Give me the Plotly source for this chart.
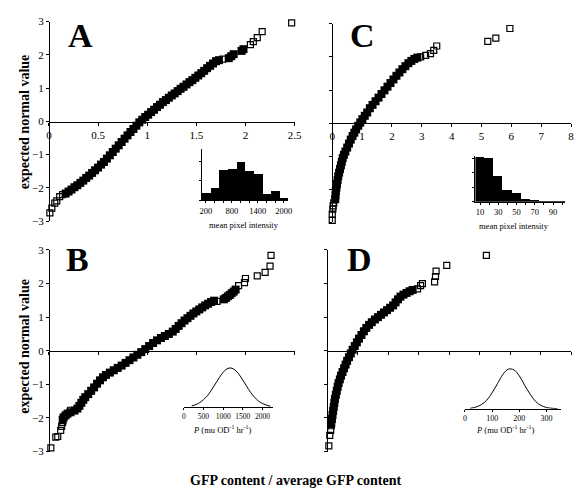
import plotly.graph_objects as go

W, H = 582, 494
def px(x): return x / W
def py(y): return 1 - y / H

SERIF = "Liberation Serif"

# ---------------- data ----------------
# Panel A (GFP content / average vs expected normal value)
a_band_x = [0.17,0.20,0.23,0.26,0.29,0.32,0.35,0.38,0.41,0.44,0.47,0.50,0.53,0.56,0.59,0.62,0.65,0.68,0.71,0.74,
            0.77,0.80,0.83,0.86,0.89,0.92,0.95,0.98,1.01,1.04,1.07,1.10,1.13,1.16,1.19,1.22,1.25,1.28,1.31,1.34,
            1.37,1.40,1.43,1.46,1.49,1.52,1.55,1.58,1.61,1.64,1.67,1.70,1.73,1.83,1.855,1.88,1.96,1.98]
a_band_y = [-2.17,-2.11,-2.05,-1.98,-1.92,-1.85,-1.78,-1.70,-1.63,-1.55,-1.47,-1.39,-1.30,-1.22,-1.12,-1.02,-0.92,-0.82,-0.72,-0.62,
            -0.52,-0.42,-0.32,-0.23,-0.13,-0.03,0.05,0.13,0.20,0.28,0.35,0.43,0.50,0.58,0.64,0.71,0.78,0.84,0.91,0.98,
            1.04,1.11,1.18,1.24,1.31,1.38,1.45,1.52,1.60,1.67,1.74,1.81,1.84,1.90,1.96,2.02,2.12,2.17]
a_open_x = [0.01,0.01,0.03,0.06,0.08,0.11,0.14,1.77,2.05,2.08,2.12,2.17,2.47]
a_open_y = [-3.03,-2.75,-2.61,-2.46,-2.39,-2.26,-2.20,1.87,2.31,2.40,2.52,2.70,2.96]

# Panel B
b_band_x = [0.14,0.15,0.17,0.19,0.22,0.26,0.29,0.31,0.33,0.35,0.37,0.40,0.43,0.46,0.49,0.52,0.55,0.58,0.62,0.66,
            0.70,0.74,0.78,0.82,0.86,0.90,0.94,0.98,1.02,1.06,1.10,1.14,1.18,1.22,1.26,1.29,1.32,1.35,1.38,1.41,
            1.44,1.47,1.50,1.53,1.56,1.59,1.62,1.65,1.68,1.78,1.80,1.82,1.84,1.86,1.88,1.90]
b_band_y = [-2.05,-1.98,-1.92,-1.87,-1.83,-1.78,-1.72,-1.64,-1.55,-1.46,-1.38,-1.29,-1.19,-1.09,-0.98,-0.88,-0.79,-0.72,-0.65,-0.58,
            -0.51,-0.44,-0.36,-0.28,-0.20,-0.12,-0.04,0.05,0.14,0.23,0.31,0.38,0.44,0.50,0.57,0.65,0.74,0.82,0.90,0.97,
            1.04,1.11,1.17,1.23,1.29,1.35,1.40,1.45,1.49,1.53,1.57,1.62,1.66,1.71,1.76,1.82]
b_open_x = [0.02,0.07,0.09,0.12,0.13,0.14,0.22,1.71,1.93,1.99,2.00,2.12,2.20,2.25,2.26]
b_open_y = [-2.89,-2.57,-2.55,-2.37,-2.25,-2.13,-1.77,1.47,1.94,2.03,2.15,2.23,2.33,2.52,2.84]

# Panel C
c_band_x = [0.10,0.11,0.12,0.14,0.16,0.18,0.20,0.23,0.26,0.29,0.32,0.35,0.39,0.44,0.50,0.56,0.62,0.68,0.74,0.80,
            0.87,0.94,1.01,1.09,1.17,1.26,1.35,1.45,1.55,1.65,1.75,1.85,1.95,2.05,2.15,2.25,2.35,2.45,2.55,2.65,
            2.75,2.85]
c_band_y = [-2.30,-2.18,-2.06,-1.95,-1.84,-1.72,-1.61,-1.50,-1.39,-1.28,-1.17,-1.06,-0.96,-0.86,-0.74,-0.62,-0.50,-0.39,-0.29,-0.19,
            -0.08,0.02,0.12,0.22,0.32,0.45,0.55,0.66,0.77,0.88,0.99,1.10,1.21,1.32,1.43,1.53,1.63,1.72,1.81,1.88,
            1.94,1.98]
c_open_x = [0.00,0.00,0.02,0.03,0.05,2.96,3.13,3.29,3.40,3.50,5.21,5.48,5.95]
c_open_y = [-2.94,-2.75,-2.60,-2.50,-2.41,2.00,2.05,2.10,2.20,2.33,2.47,2.57,2.86]

# Panel D
d_band_x = [0.13,0.15,0.17,0.19,0.21,0.23,0.25,0.28,0.31,0.34,0.37,0.41,0.45,0.50,0.55,0.60,0.65,0.71,0.77,0.83,
            0.90,0.97,1.04,1.12,1.20,1.28,1.37,1.46,1.56,1.66,1.76,1.86,1.96,2.06,2.16,2.24,2.32,2.40,2.50,2.60,
            2.70,2.80]
d_band_y = [-2.15,-2.03,-1.91,-1.79,-1.67,-1.55,-1.43,-1.31,-1.19,-1.07,-0.96,-0.85,-0.74,-0.63,-0.52,-0.41,-0.30,-0.19,-0.08,0.03,
            0.14,0.25,0.36,0.47,0.58,0.68,0.77,0.85,0.93,1.00,1.07,1.14,1.21,1.28,1.35,1.44,1.53,1.61,1.67,1.72,
            1.77,1.81]
d_open_x = [0.05,0.08,0.11,0.13,2.96,3.06,3.12,3.52,3.55,3.57,3.92,5.22]
d_open_y = [-2.83,-2.52,-2.37,-2.23,1.84,1.94,2.00,2.05,2.21,2.37,2.54,2.84]

# Inset histograms (mean pixel intensity)
hist_a_bins = [200,400,600,800,1000,1200,1400,1600,1800,2000]
hist_a_counts = [3.8,6.3,15.5,16.0,19.7,15.2,13.5,3.0,4.7,1.3]
hist_a_labels = [200,800,1400,2000]
hist_c_bins = [10,20,30,40,50,60,70,80,90,100]
hist_c_counts = [30.4,30.0,17.6,7.8,5.6,1.6,1.1,0.3,0.3,0.1]
hist_c_labels = [10,30,50,70,90]

# Inset distribution curves (P, mu OD-1 hr-1)
curve_b_x = [200,300,400,500,600,700,800,900,1000,1100,1200,1300,1400,1500,1600,1700,1800,1900,2000,2100,2200]
curve_b_y = [0.03,0.06,0.11,0.19,0.29,0.43,0.59,0.75,0.89,0.98,1.00,0.95,0.84,0.69,0.53,0.37,0.25,0.15,0.09,0.05,0.02]
curve_b_ticks = [0,500,1000,1500,2000]
curve_d_x = [20,40,60,80,100,120,140,160,180,200,220,240,260,280,300,320,340]
curve_d_y = [0.01,0.04,0.10,0.21,0.40,0.63,0.86,0.99,0.97,0.82,0.58,0.36,0.18,0.08,0.03,0.01,0.00]
curve_d_ticks = [0,100,200,300]

main_ticks_a = [0, 0.5, 1, 1.5, 2, 2.5]
main_ticktext_a = ["0", "0.5", "1", "1.5", "2", "2.5"]
main_ticks_c = [0, 1, 2, 3, 4, 5, 6, 7, 8]
y_ticks = [-3, -2, -1, 0, 1, 2, 3]

# ---------------- figure ----------------
fig = go.Figure()

def add_panel(bx, by, ox, oy, xa, ya):
    fig.add_trace(go.Scatter(x=bx, y=by, mode="markers", xaxis=xa, yaxis=ya,
                             marker=dict(symbol="square", size=8, color="black", line=dict(width=0)),
                             cliponaxis=False, showlegend=False, hoverinfo="skip"))
    fig.add_trace(go.Scatter(x=ox, y=oy, mode="markers", xaxis=xa, yaxis=ya,
                             marker=dict(symbol="square-open", size=6, color="black", line=dict(width=1.2, color="black")),
                             cliponaxis=False, showlegend=False, hoverinfo="skip"))

add_panel(a_band_x, a_band_y, a_open_x, a_open_y, "x", "y")
add_panel(b_band_x, b_band_y, b_open_x, b_open_y, "x2", "y2")
add_panel(c_band_x, c_band_y, c_open_x, c_open_y, "x3", "y3")
add_panel(d_band_x, d_band_y, d_open_x, d_open_y, "x4", "y4")

fig.add_trace(go.Bar(x=hist_a_bins, y=hist_a_counts, width=200, xaxis="x5", yaxis="y5",
                     marker=dict(color="black", line=dict(width=0)), showlegend=False, hoverinfo="skip"))
fig.add_trace(go.Bar(x=hist_c_bins, y=hist_c_counts, width=10, xaxis="x6", yaxis="y6",
                     marker=dict(color="black", line=dict(width=0)), showlegend=False, hoverinfo="skip"))
fig.add_trace(go.Scatter(x=curve_b_x, y=curve_b_y, mode="lines", xaxis="x7", yaxis="y7",
                         line=dict(color="black", width=1, shape="spline"), showlegend=False, hoverinfo="skip"))
fig.add_trace(go.Scatter(x=curve_d_x, y=curve_d_y, mode="lines", xaxis="x8", yaxis="y8",
                         line=dict(color="black", width=1, shape="spline"), showlegend=False, hoverinfo="skip"))

base = dict(showline=True, linecolor="black", linewidth=1, ticks="outside", ticklen=3, tickwidth=1,
            tickcolor="black", showgrid=False, zeroline=False, fixedrange=True,
            tickfont=dict(family=SERIF, size=11, color="black"))
inset = dict(base, tickfont=dict(family=SERIF, size=8.5, color="black"), ticklen=2, tickangle=0)

layout = dict(
    width=W, height=H, margin=dict(l=0, r=0, t=0, b=0),
    paper_bgcolor="white", plot_bgcolor="rgba(0,0,0,0)", showlegend=False, bargap=0,
    # main panels
    xaxis=dict(base, domain=[px(46.7), px(296.7)], range=[0, 2.5], anchor="free", position=py(118.5),
               tickvals=main_ticks_a, ticktext=main_ticktext_a),
    yaxis=dict(base, domain=[py(220.5), py(16)], range=[-3, 3], anchor="free", position=px(46.7),
               tickvals=y_ticks),
    xaxis2=dict(base, domain=[px(46.7), px(296.7)], range=[0, 2.5], anchor="free", position=py(353.3),
                tickvals=main_ticks_a, showticklabels=False),
    yaxis2=dict(base, domain=[py(456.7), py(250)], range=[-3, 3], anchor="free", position=px(46.7),
                tickvals=y_ticks),
    xaxis3=dict(base, domain=[px(335), px(578)], range=[0, 8], anchor="free", position=py(120),
                tickvals=main_ticks_c),
    yaxis3=dict(base, domain=[py(221.7), py(18.3)], range=[-3, 3], anchor="free", position=px(335),
                tickvals=y_ticks, showticklabels=False),
    xaxis4=dict(base, domain=[px(330), px(578)], range=[0, 8], anchor="free", position=py(353.3),
                tickvals=main_ticks_c, showticklabels=False),
    yaxis4=dict(base, domain=[py(456.7), py(250)], range=[-3, 3], anchor="free", position=px(330),
                tickvals=y_ticks, showticklabels=False),
    # insets
    xaxis5=dict(inset, domain=[px(202), px(290)], range=[100, 2100], anchor="y5",
                tickvals=hist_a_labels,
                minor=dict(tick0=200, dtick=200, ticks="outside", ticklen=2, tickcolor="black")),
    yaxis5=dict(inset, domain=[py(199.3), py(146.7)], range=[0, 26.3], anchor="x5",
                tickvals=[0, 10, 20], showticklabels=False),
    xaxis6=dict(inset, domain=[px(480.7), px(572)], range=[5, 103.2], anchor="y6",
                tickvals=hist_c_labels,
                minor=dict(tick0=10, dtick=10, ticks="outside", ticklen=2, tickcolor="black")),
    yaxis6=dict(inset, domain=[py(200.7), py(154)], range=[0, 31.2], anchor="x6",
                tickvals=[0, 10, 20, 30], showticklabels=False),
    xaxis7=dict(inset, domain=[px(184), px(275)], range=[0, 2275], anchor="y7",
                tickvals=curve_b_ticks, tickfont=dict(family=SERIF, size=7.5, color="black")),
    yaxis7=dict(domain=[py(411), py(369.8)], range=[0, 1.03], anchor="x7", visible=False, fixedrange=True),
    xaxis8=dict(inset, domain=[px(470), px(568)], range=[0, 354], anchor="y8",
                tickvals=curve_d_ticks, tickfont=dict(family=SERIF, size=8, color="black")),
    yaxis8=dict(domain=[py(412.7), py(370.5)], range=[0, 1.03], anchor="x8", visible=False, fixedrange=True),
)
fig.update_layout(**layout)

def ann(text, x, y, size, bold=False, angle=0):
    fig.add_annotation(text=text, x=px(x), y=py(y), xref="paper", yref="paper",
                       showarrow=False, xanchor="center", yanchor="middle", textangle=angle,
                       font=dict(family=SERIF, size=size, color="black",
                                 weight="bold" if bold else "normal"))

ann("A", 79, 30, 34, bold=True)
ann("C", 366, 30, 34, bold=True)
ann("B", 76, 260, 34, bold=True)
ann("D", 363, 260, 34, bold=True)
ann("expected normal value", 21.5, 119, 14, bold=True, angle=-90)
ann("expected normal value", 21.5, 349, 14, bold=True, angle=-90)
ann("GFP content / average GFP content", 298, 486, 14, bold=True)
ann("mean pixel intensity", 245, 224, 8.5)
ann("mean pixel intensity", 520, 225, 8.5)
ann("<i>P</i> (mu OD<sup>-1</sup> hr<sup>-1</sup>)", 223, 434, 8.5)
ann("<i>P</i> (mu OD<sup>-1</sup> hr<sup>-1</sup>)", 511, 434, 8.5)

fig.write_html("out.html")
